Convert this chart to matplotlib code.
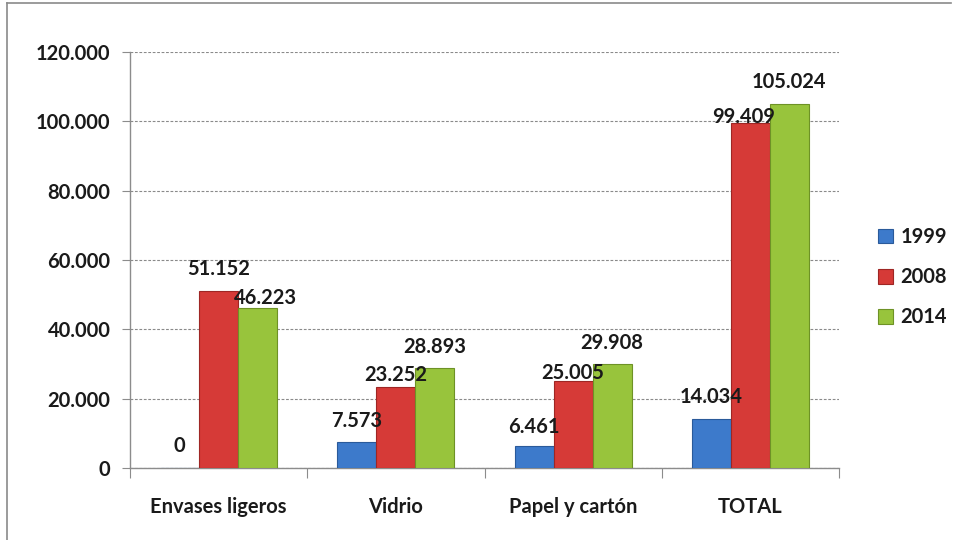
import matplotlib
matplotlib.use("Agg")
import matplotlib.pyplot as plt
import numpy as np
from matplotlib.lines import Line2D

categories = ["Envases ligeros", "Vidrio", "Papel y cartón", "TOTAL"]
years = ["1999", "2008", "2014"]
v1999 = [0, 7573, 6461, 14034]
v2008 = [51152, 23252, 25005, 99409]
v2014 = [46223, 28893, 29908, 105024]
yticks = [0, 20000, 40000, 60000, 80000, 100000, 120000]

series = [v1999, v2008, v2014]
colors = ["#3D7ACB", "#D63A37", "#98C43C"]
edges = ["#2A5A9A", "#9E2624", "#6E9226"]
# label offsets in pixels (dx, dy to text centre), styling only
label_dx = [[0, 0, 0, 0], [0, 0, 0, -7], [8, 0, 0, 0]]
label_dy = [[22, 21, 19, 22], [22, 12, 8, 6], [10, 21, 21, 22]]

plt.rcParams['font.family'] = ['Lato', 'DejaVu Sans']
FS = 14.5

fig = plt.figure(figsize=(9.54, 5.4), dpi=100)
ax = fig.add_axes([130/954, 1-468/540, (839-130)/954, (468-52)/540])

x = np.arange(len(categories))
w = 0.22
for i, (vals, c, ec) in enumerate(zip(series, colors, edges)):
    pos = x + (i - 1) * w
    ax.bar(pos, vals, width=w, color=c, edgecolor=ec, linewidth=0.8,
           label=years[i], zorder=3)
    for j, v in enumerate(vals):
        txt = f"{v:,}".replace(",", ".")
        ax.annotate(txt, (pos[j], v), xytext=(label_dx[i][j], label_dy[i][j]),
                    textcoords="offset pixels", ha="center", va="center",
                    fontsize=FS, fontweight="bold", color="#1a1a1a", zorder=5)

ax.set_xlim(-0.5, len(categories) - 0.5)
ax.set_ylim(0, 120000)
ax.set_yticks(yticks)
ax.set_yticklabels([f"{t:,}".replace(",", ".") for t in yticks],
                   fontsize=FS, fontweight="bold", color="#1a1a1a")
ax.set_xticks(np.arange(-0.5, len(categories), 1.0))
ax.set_xticklabels([])
ax.set_xticks(x, minor=True)
ax.set_xticklabels(categories, minor=True, fontsize=FS, fontweight="bold",
                   color="#1a1a1a")
ax.tick_params(axis="x", which="minor", length=0, pad=21)
ax.tick_params(axis="x", which="major", length=7, color="#8c8c8c", direction="out")
ax.tick_params(axis="y", length=6, color="#8c8c8c", direction="out", pad=8)

ax.grid(axis="y", linestyle=(0, (2.5, 1.5)), color="#8a8a8a", linewidth=0.8, zorder=0)
for s in ["top", "right"]:
    ax.spines[s].set_visible(False)
for s in ["left", "bottom"]:
    ax.spines[s].set_color("#8c8c8c")
    ax.spines[s].set_linewidth(1.0)

leg = fig.legend(loc="upper left", bbox_to_anchor=(870/954, 1-219/540),
                 frameon=False, fontsize=FS, handlelength=0.75, handleheight=0.75,
                 handletextpad=0.35, labelspacing=1.0, borderaxespad=0)
for t in leg.get_texts():
    t.set_fontweight("bold")
    t.set_color("#1a1a1a")

# outer chart frame (top and left visible)
fig.add_artist(Line2D([7/954, 7/954], [0, 1-3/540], transform=fig.transFigure,
                      color="#8a8a8a", linewidth=1.2))
fig.add_artist(Line2D([7/954, 951/954], [1-3/540, 1-3/540], transform=fig.transFigure,
                      color="#8a8a8a", linewidth=1.2))

fig.savefig("out.png", dpi=100)
